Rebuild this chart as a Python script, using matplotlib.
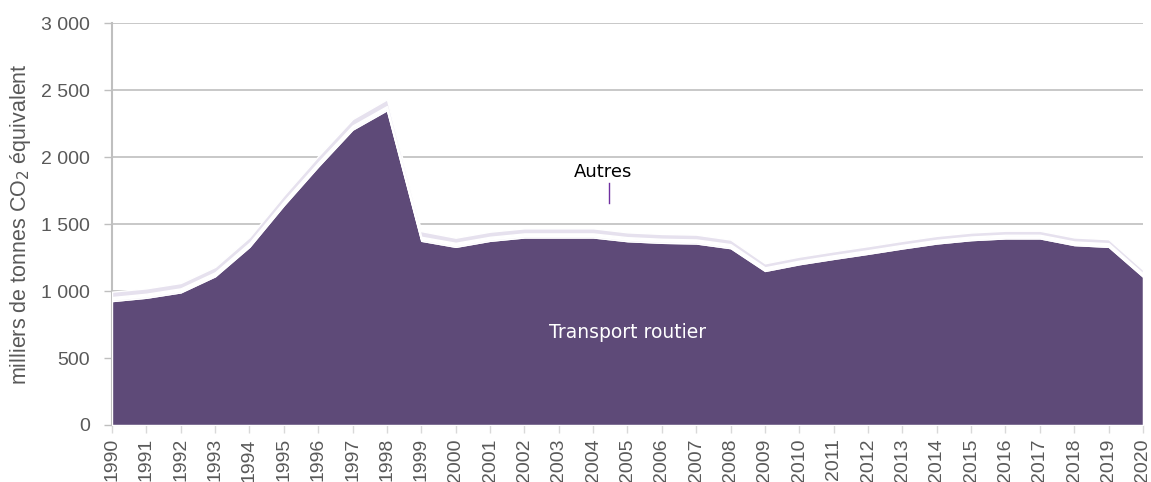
import matplotlib
matplotlib.use('Agg')
import matplotlib.pyplot as plt
import numpy as np

plt.rcParams['font.family'] = ['Liberation Sans', 'DejaVu Sans']

years = list(range(1990, 2021))
transport = [925, 950, 990, 1110, 1330, 1640, 1930, 2205, 2350, 1375, 1330,
             1375, 1400, 1400, 1400, 1372, 1360, 1355, 1320, 1150, 1200,
             1240, 1278, 1318, 1355, 1380, 1393, 1393, 1343, 1330, 1107]
autre1 = [12, 12, 12, 12, 13, 13, 13, 13, 13, 12, 12, 12, 12, 12, 12, 12,
          12, 12, 12, 11, 11, 11, 11, 11, 11, 11, 11, 11, 11, 11, 10]
autre2 = [10, 10, 10, 10, 10, 10, 10, 10, 10, 10, 10, 10, 10, 10, 10, 10,
          10, 10, 10, 9, 9, 9, 9, 9, 9, 9, 9, 9, 9, 9, 8]
autre3 = [8, 8, 8, 8, 8, 8, 8, 8, 8, 8, 8, 8, 8, 8, 8, 8,
          8, 8, 8, 7, 7, 7, 7, 7, 7, 7, 7, 7, 7, 7, 6]
autres = [40, 40, 40, 40, 42, 44, 46, 48, 50, 42, 38, 38, 38, 38, 38, 36,
          36, 36, 34, 30, 30, 30, 30, 30, 30, 30, 30, 30, 30, 30, 28]
yticks = [0, 500, 1000, 1500, 2000, 2500, 3000]
ytick_labels = ['0', '500', '1 000', '1 500', '2 000', '2 500', '3 000']

grey = '#595959'
fig, ax = plt.subplots(figsize=(11.51, 4.82), dpi=100)
fig.subplots_adjust(left=0.0973, right=0.993, bottom=0.1183, top=0.952)

ax.stackplot(years, transport, autre1, autre2, autre3, autres,
             colors=['#5E4A78', '#DCD5E7', '#EAE6F0', '#D6CEE2', '#E6E1EE'],
             edgecolor='white', linewidth=1.0, zorder=3)

ax.set_xlim(1990, 2020)
ax.set_ylim(0, 3000)
ax.set_yticks(yticks)
ax.set_yticklabels(ytick_labels)
ax.set_xticks(years)
ax.set_xticklabels([str(y) for y in years], rotation=90)
ax.tick_params(axis='y', colors='#BFBFBF', labelcolor=grey, labelsize=14,
               length=6, width=1, pad=10)
ax.tick_params(axis='x', colors='#D9D9D9', labelcolor=grey, labelsize=14,
               length=6, width=1)
ax.grid(axis='y', color='#BFBFBF', linewidth=1.2, zorder=0)
ax.set_axisbelow(True)
for s in ['top', 'right']:
    ax.spines[s].set_visible(False)
ax.spines['left'].set_color('#BFBFBF')
ax.spines['left'].set_linewidth(1.5)
ax.spines['bottom'].set_color('#D9D9D9')

ax.set_ylabel('milliers de tonnes CO$_2$ équivalent', color=grey, fontsize=15.5,
              labelpad=6)

ax.text(2005, 690, 'Transport routier', color='white', fontsize=13.5,
        ha='center', va='center', family=['DejaVu Sans'], zorder=5)
ax.text(2004.3, 1885, 'Autres', color='black', fontsize=13,
        ha='center', va='center', family=['DejaVu Sans'], zorder=5)
ax.plot([2004.45, 2004.45], [1660, 1805], color='#7030A0', linewidth=1, zorder=5)

fig.savefig('out.png', dpi=100)
